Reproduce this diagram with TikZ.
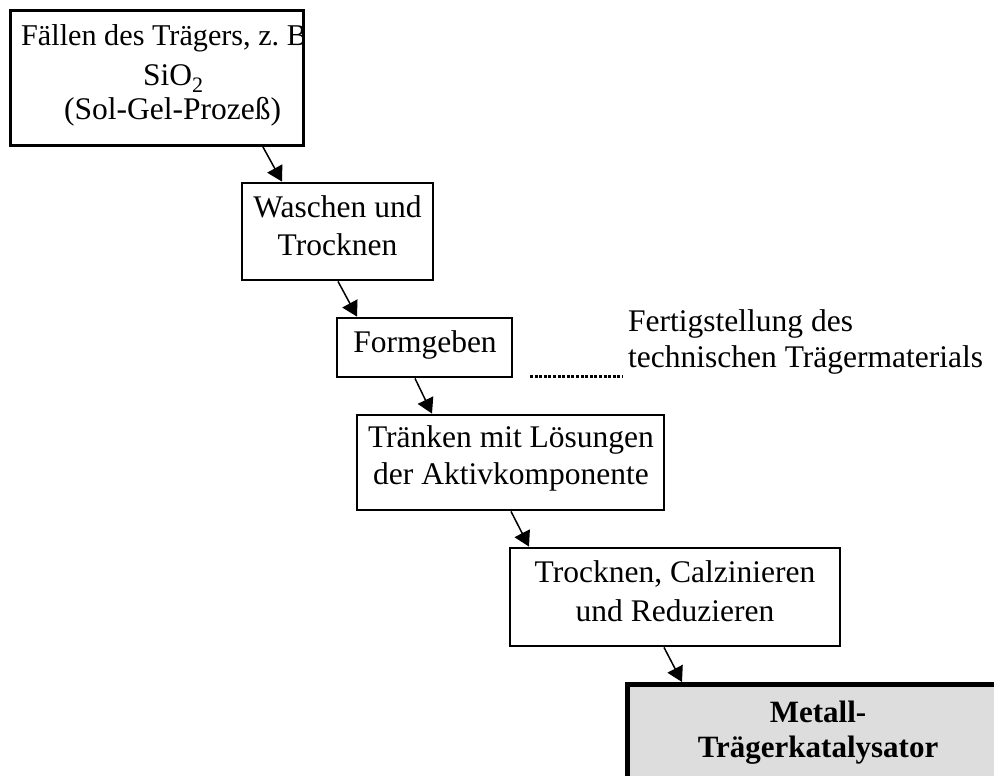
\documentclass[tikz,border=0pt]{standalone}
\usepackage{fontspec}
\setmainfont{Liberation Serif}
\usetikzlibrary{arrows.meta}
\newcommand\sst{\vrule width0pt height 0.75em depth 0.25em\relax}
\definecolor{finalgray}{HTML}{DDDDDD}
\begin{document}
\begin{tikzpicture}[x=1pt,y=-1pt,
  box/.style={draw=black, line width=2.8pt, fill=white, inner sep=0pt},
  finalbox/.style={draw=black, line width=4.5pt, fill=finalgray, inner sep=0pt},
  txt/.style={inner sep=0pt, align=center, font=\fontsize{31.5}{38}\selectfont},
  line/.style={inner sep=0pt, anchor=base west, font=\fontsize{31.5}{38}\selectfont},
  flow/.style={line width=1.5pt, -{Triangle[length=15pt,width=17pt]}}
]
\useasboundingbox (0,0) rectangle (994,776);
% boxes
\node[fill=white, inner sep=0pt, minimum width=292, minimum height=134] (b1) at (157,78) {};
\node[box, minimum width=191, minimum height=97] (b2) at (337.5,231.5) {};
\node[box, minimum width=175, minimum height=59] (b3) at (424.5,347.5) {};
\node[box, minimum width=307, minimum height=95] (b4) at (510.5,462.5) {};
\node[box, minimum width=330, minimum height=98] (b5) at (675,597) {};
\node[finalbox, minimum width=420, minimum height=140, anchor=north west] (b6) at (625,682) {};
% texts of the first box (first line runs past the border and is cut off)
\begin{scope}
\clip (b1.south west) rectangle (b1.north east);
\node[line, font=\fontsize{30.2}{36}\selectfont] (t1a) at (21,46) {Fällen des Trägers, z.\ B.};
\node[line] (t1b) at (143,86) {SiO\textsubscript{2}};
\node[line] (t1c) at (64,120) {(Sol-Gel-Prozeß)};
\end{scope}
\draw[line width=2.8pt] (b1.south west) rectangle (b1.north east);
\node[txt] (t2) at (337.5,228.6) {\sst Waschen und\\ Trocknen\sst};
\node[txt] (t3) at (425,345.1) {\sst Formgeben\sst};
\node[txt, font=\fontsize{31.5}{37}\selectfont] (t4) at (511,458.6) {\sst Tränken mit Lösungen\\ der Aktivkomponente\sst};
\node[txt, font=\fontsize{31.5}{39}\selectfont] (t5) at (675,594.6) {\sst Trocknen, Calzinieren\\ und Reduzieren\sst};
\node[txt, font=\fontsize{31}{35}\selectfont\bfseries] (t6) at (818,732.6) {\sst Metall-\\ Trägerkatalysator\sst};
\node[txt, align=left, anchor=west, font=\fontsize{31.5}{36}\selectfont] (ft) at (628,342.1)
  {\sst Fertigstellung des\\ technischen Trägermaterials\sst};
% dotted marker
\coordinate (d1) at (530,376);
\draw[line width=3pt, dash pattern=on 3pt off 1.6pt, shorten >=5pt] (d1) -- (d1 -| ft.west);
% arrows
\draw[flow] ([xshift=105pt]b1.south) -- ([xshift=-55.5pt]b2.north);
\draw[flow] ([xshift=0.5pt]b2.south) -- ([xshift=-67.5pt]b3.north);
\draw[flow] ([xshift=-9.5pt]b3.south) -- ([xshift=-78.5pt]b4.north);
\draw[flow] ([xshift=0.5pt]b4.south) -- ([xshift=-146pt]b5.north);
\draw[flow] ([xshift=-11pt]b5.south) -- ([xshift=57pt]b6.north west);
\end{tikzpicture}
\end{document}
